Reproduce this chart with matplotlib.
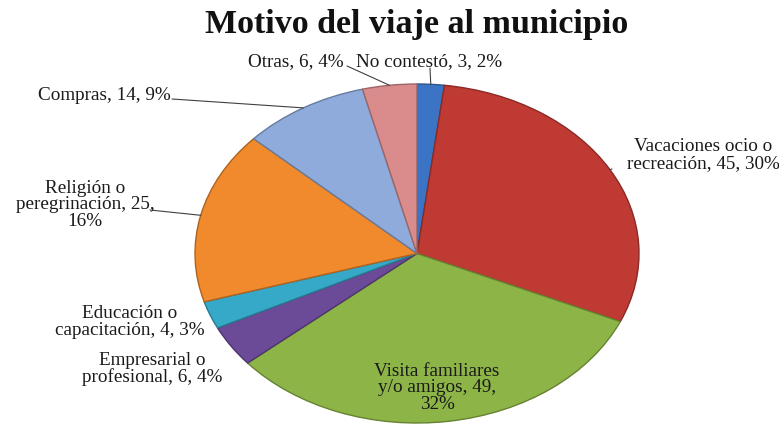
import matplotlib
matplotlib.use("Agg")
import matplotlib.pyplot as plt
import matplotlib.colors as mcolors
import numpy as np

# ---- data ----
categories = ["No contestó", "Vacaciones ocio o recreación", "Visita familiares y/o amigos",
              "Empresarial o profesional", "Educación o capacitación",
              "Religión o peregrinación", "Compras", "Otras"]
values = [3, 45, 49, 6, 4, 25, 14, 6]
label_formats = ["{c}, {v}, {p}%",
                 "Vacaciones ocio o\nrecreación, {v}, {p}%",
                 "Visita familiares\ny/o amigos, {v},\n{p}%",
                 "Empresarial o\nprofesional, {v}, {p}%",
                 "Educación o\ncapacitación, {v}, {p}%",
                 "Religión o\nperegrinación, {v},\n{p}%",
                 "{c}, {v}, {p}%",
                 "{c}, {v}, {p}%"]
title = "Motivo del viaje al municipio"

colors = ["#3b74c4", "#bf3a33", "#8db446", "#6b4a98", "#36a9c8", "#f08a2c", "#8fabdb", "#da8c8c"]

W, H = 779, 426
fig = plt.figure(figsize=(W / 100, H / 100), dpi=100)
fig.patch.set_facecolor("white")

# pie region in pixels: x 195..639, y 84..423 (top-down)
px0, px1, py0, py1 = 195, 639, 84, 423
ax = fig.add_axes([px0 / W, (H - py1) / H, (px1 - px0) / W, (py1 - py0) / H])

def shade(c, f):
    r, g, b = mcolors.to_rgb(c)
    return (r * f, g * f, b * f)

wedges, _ = ax.pie(values, colors=colors, startangle=90, counterclock=False, radius=1,
                   wedgeprops=dict(linewidth=1.0))
for w, c in zip(wedges, colors):
    w.set_edgecolor(shade(c, 0.72))
ax.set_aspect("auto")
ax.set_xlim(-1, 1)
ax.set_ylim(-1, 1)
ax.axis("off")

total = sum(values)
pcts = [round(v / total * 100) for v in values]
texts = [f.format(c=c, v=v, p=p) for f, c, v, p in zip(label_formats, categories, values, pcts)]

def pix(x, y):
    # pixel (top-down) -> figure fraction
    return (x / W, 1 - y / H)

font = dict(family="Liberation Serif", fontsize=13.8, color="#1a1a1a", linespacing=0.95)

# label placements (pixel centers) and leader-line start points
placements = [
    (429, 62, (430, 68)),    # No contestó
    (703, 155, (612, 169)),  # Vacaciones
    (437, 388, None),        # Visita
    (152, 369, None),        # Empresarial
    (130, 322, None),        # Educación
    (85, 205, (150, 210)),   # Religión
    (104, 96, (172, 99)),    # Compras
    (296, 62, (347, 66)),    # Otras
]

for w, t, (x, y, lp) in zip(wedges, texts, placements):
    ang = np.deg2rad((w.theta1 + w.theta2) / 2)
    ex, ey = np.cos(ang), np.sin(ang)
    fx, fy = pix(x, y)
    fig.text(fx, fy, t, ha="center", va="center", multialignment="center", **font)
    if lp is not None:
        lx, ly = pix(*lp)
        ax.annotate("", xy=(ex, ey), xycoords="data",
                    xytext=(lx, ly), textcoords="figure fraction",
                    arrowprops=dict(arrowstyle="-", color="#404040", lw=0.8,
                                    shrinkA=0, shrinkB=0))

fx, fy = pix(417, 24)
fig.text(fx, fy, title, ha="center", va="center", family="Liberation Serif",
         fontsize=24.5, fontweight="bold", color="#111111")

fig.savefig("out.png", dpi=100, facecolor="white")
